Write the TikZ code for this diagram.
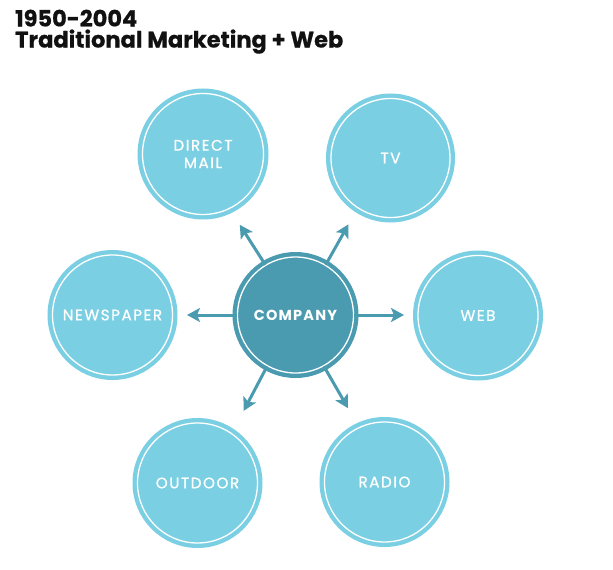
\documentclass[tikz,border=0pt]{standalone}
\usepackage{fontspec}
\setmainfont{Poppins}
\usetikzlibrary{arrows.meta}
\definecolor{lightcirc}{HTML}{7BCFE3}
\definecolor{compcol}{HTML}{4A9BB0}
\definecolor{titlecol}{HTML}{111111}
\tikzset{
  x=1pt, y=1pt,
  bubble/.style={circle, inner sep=0pt, minimum size=#1,
    preaction={draw=lightcirc, line width=10pt},
    fill=lightcirc, draw=white, line width=1.3pt,
    text=white, align=center,
    font=\fontsize{15.2}{17.5}\selectfont\addfontfeature{LetterSpace=10,FakeBold=0.8}},
  compbubble/.style={circle, inner sep=0pt, minimum size=#1,
    preaction={draw=compcol, line width=10pt},
    fill=compcol, draw=white, line width=1.3pt,
    text=white, align=center,
    font=\bfseries\fontsize{14.5}{17}\selectfont\addfontfeature{LetterSpace=8}},
  arr/.style={draw=compcol, line width=3pt,
    -{Stealth[length=13pt, width=14pt, inset=3pt]}},
  titletext/.style={anchor=north west, inner sep=0pt, align=left, text=titlecol,
    font=\bfseries\fontsize{22.5}{21}\selectfont\addfontfeature{FakeBold=0.6}}
}
\begin{document}
\begin{tikzpicture}
\useasboundingbox (0,0) rectangle (613,-570);
\node[titletext] (title) at (15,-9.5) {1950-2004\\Traditional Marketing + Web};
\node[compbubble=116pt] (comp) at (295.5,-315) {COMPANY};
\node[bubble=121pt] (dm) at (203,-154) {DIRECT\\MAIL};
\node[bubble=119pt] (tv) at (390.5,-158) {TV};
\node[bubble=120pt] (web) at (478,-315.5) {WEB};
\node[bubble=120pt] (news) at (112.5,-315) {NEWSPAPER};
\node[bubble=120pt] (out) at (197.5,-483) {OUTDOOR};
\node[bubble=120pt] (radio) at (384.5,-482) {RADIO};
\path (comp.center) ++(121.7:106) coordinate (tdm);
\path (comp.center) ++(59.7:105) coordinate (ttv);
\path (comp.center) ++(0:108.5) coordinate (tweb);
\path (comp.center) ++(180:108.5) coordinate (tnews);
\path (comp.center) ++(241.6:109) coordinate (tout);
\path (comp.center) ++(299.4:107) coordinate (tradio);
\draw[arr] (comp.121.7) -- (tdm);
\draw[arr] (comp.59.7) -- (ttv);
\draw[arr] (comp.0) -- (tweb);
\draw[arr] (comp.180) -- (tnews);
\draw[arr] (comp.241.6) -- (tout);
\draw[arr] (comp.299.4) -- (tradio);
\end{tikzpicture}
\end{document}
